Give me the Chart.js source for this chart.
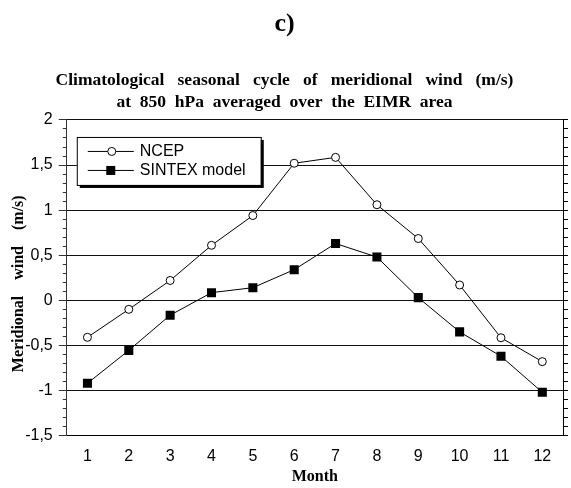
<!DOCTYPE html>
<html>
<head>
<meta charset="utf-8">
<script src="https://cdn.jsdelivr.net/npm/chart.js@4.4.0/dist/chart.umd.min.js"></script>
<style>
  html, body { margin: 0; padding: 0; background: #fff; }
  #wrap { width: 571px; height: 488px; }
</style>
</head>
<body>
<div id="wrap"><canvas id="chart"></canvas></div>
<script>
// data
var months = ['1', '2', '3', '4', '5', '6', '7', '8', '9', '10', '11', '12'];
var ncep = [-0.41, -0.10, 0.22, 0.61, 0.94, 1.52, 1.585, 1.06, 0.685, 0.17, -0.415, -0.68];
var sintex = [-0.92, -0.555, -0.165, 0.085, 0.14, 0.34, 0.63, 0.48, 0.03, -0.35, -0.62, -1.02];
var yMin = -1.5;
var yMax = 2;
var yMajorStep = 0.5;
var yMinorStep = 0.1;

var serif = "'Liberation Serif', 'Times New Roman', serif";
var sans = "'Liberation Sans', Arial, sans-serif";

function isMajor(v){
    var k = v / yMajorStep;
    return Math.abs(k - Math.round(k)) < 1e-6;
}

// boxed legend with drop shadow, top left of the plot
var boxLegend = {
    id: 'boxLegend',
    afterDraw: function(chart){
        var ctx = chart.ctx;
        var a = chart.chartArea;
        var x = a.left + 10, y = a.top + 17, w = 184, h = 48;
        ctx.save();
        ctx.fillStyle = '#000';
        ctx.fillRect(x + 3, y + 3, w, h);
        ctx.fillStyle = '#fff';
        ctx.fillRect(x, y, w, h);
        ctx.strokeStyle = '#000';
        ctx.lineWidth = 1;
        ctx.strokeRect(x + 0.5, y + 0.5, w, h);
        chart.data.datasets.forEach(function(ds, i){
            var ly = y + 14 + i * 19;
            ctx.beginPath();
            ctx.moveTo(x + 11, ly + 0.5);
            ctx.lineTo(x + 57, ly + 0.5);
            ctx.stroke();
            var mx = x + 34;
            if(ds.pointStyle == 'rect'){
                ctx.fillStyle = '#000';
                ctx.fillRect(mx - 4.5, ly - 4, 9, 9);
            } else {
                ctx.beginPath();
                ctx.arc(mx + 1, ly + 0.5, 4, 0, Math.PI * 2);
                ctx.fillStyle = '#fff';
                ctx.fill();
                ctx.stroke();
            }
            ctx.fillStyle = '#000';
            ctx.font = '16px ' + sans;
            ctx.textBaseline = 'middle';
            ctx.fillText(ds.label, x + 63, ly + 1);
        });
        ctx.restore();
    }
};

var myChart = new Chart(document.getElementById('chart'), {
    type: 'line',
    data: {
        labels: months,
        datasets: [
            {
                label: 'NCEP',
                data: ncep,
                borderColor: '#000',
                borderWidth: 1,
                pointStyle: 'circle',
                pointRadius: 4,
                pointBackgroundColor: '#fff',
                pointBorderColor: '#000',
                pointBorderWidth: 1,
                tension: 0
            },
            {
                label: 'SINTEX model',
                data: sintex,
                borderColor: '#000',
                borderWidth: 1,
                pointStyle: 'rect',
                pointRadius: 6.4,
                pointBackgroundColor: '#000',
                pointBorderColor: '#000',
                pointBorderWidth: 0,
                tension: 0
            }
        ]
    },
    options: {
        responsive: true,
        maintainAspectRatio: false,
        animation: false,
        layout: { padding: { left: 1, right: 3, top: 0, bottom: 2 } },
        plugins: {
            legend: { display: false },
            tooltip: { enabled: false },
            title: {
                display: true,
                text: 'c)',
                color: '#000',
                font: { family: serif, size: 26, weight: 'bold', lineHeight: 1.2 },
                padding: { top: 9, bottom: 29 }
            },
            subtitle: {
                display: true,
                text: ['Climatological   seasonal   cycle   of   meridional   wind   (m/s)',
                       'at  850  hPa  averaged  over  the  EIMR  area'],
                color: '#000',
                font: { family: serif, size: 17.5, weight: 'bold', lineHeight: 1.25 },
                padding: { top: 0, bottom: 7 }
            }
        },
        scales: {
            x: {
                offset: true,
                grid: { display: true, drawOnChartArea: false, drawTicks: false, color: '#000' },
                border: { color: '#000', width: 1 },
                ticks: { color: '#000', padding: 11, font: { family: sans, size: 16 } },
                title: {
                    display: true,
                    text: 'Month',
                    color: '#000',
                    font: { family: serif, size: 16, weight: 'bold', lineHeight: 1.2 },
                    padding: { top: -10, bottom: 0 }
                }
            },
            y: {
                position: 'left',
                min: yMin,
                max: yMax,
                border: { color: '#333', width: 1 },
                grid: {
                    color: function(c){ return isMajor(c.tick.value) ? '#111' : 'rgba(0,0,0,0)'; },
                    tickColor: '#333',
                    tickLength: 8,
                    tickBorderDash: function(c){ return isMajor(c.tick.value) ? [] : [4, 4]; },
                    tickBorderDashOffset: function(c){ return isMajor(c.tick.value) ? 0 : 4; }
                },
                ticks: {
                    stepSize: yMinorStep,
                    autoSkip: false,
                    color: '#000',
                    padding: 6,
                    font: { family: sans, size: 16 },
                    callback: function(v){
                        if(!isMajor(v)) return '';
                        return String(Math.round(v * 10) / 10).replace('.', ',');
                    }
                },
                title: {
                    display: true,
                    text: 'Meridional    wind    (m/s)   ',
                    color: '#000',
                    font: { family: serif, size: 16, weight: 'bold', lineHeight: 1.2 },
                    padding: { top: 8, bottom: -9 }
                }
            },
            y2: {
                position: 'right',
                min: yMin,
                max: yMax,
                border: { color: '#000', width: 1 },
                grid: { drawOnChartArea: false, tickColor: '#000', tickLength: 5 },
                ticks: { stepSize: yMinorStep, autoSkip: false, display: false }
            }
        }
    },
    plugins: [boxLegend]
});
</script>
</body>
</html>
